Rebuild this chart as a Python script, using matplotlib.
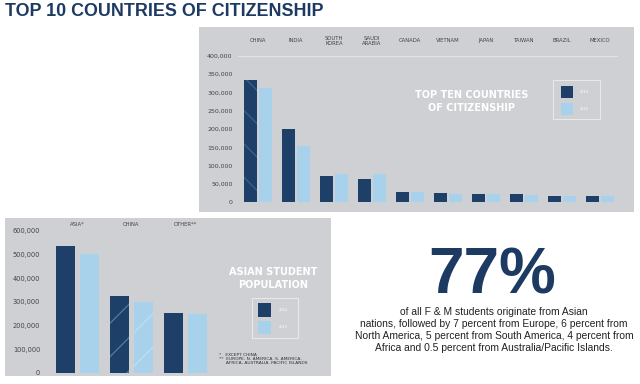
import numpy as np
import matplotlib
matplotlib.use("Agg")
import matplotlib.pyplot as plt
from matplotlib.patches import Rectangle
from matplotlib import font_manager

# top chart data
countries = ["CHINA", "INDIA", "SOUTH\nKOREA", "SAUDI\nARABIA", "CANADA",
             "VIETNAM", "JAPAN", "TAIWAN", "BRAZIL", "MEXICO"]
top_dark = [333000, 199000, 72500, 63500, 27000, 26000, 23000, 21500, 17000, 16000]
top_light = [311000, 154000, 77000, 76000, 27000, 22000, 23000, 20000, 17000, 16500]
top_ticks = [0, 50000, 100000, 150000, 200000, 250000, 300000, 350000, 400000]

# bottom chart data
groups = ["ASIA*", "CHINA", "OTHER**"]
bot_dark = [535000, 324000, 253500]
bot_light = [501000, 297000, 248000]
bot_ticks = [0, 100000, 200000, 300000, 400000, 500000, 600000]

years = ["2014", "2015"]

DARK = "#1e3f68"
LIGHT = "#a8d2ec"
PANEL = "#cfd0d4"
NAVY = "#1c3a62"
W, H = 640, 384

installed = {f.name for f in font_manager.fontManager.ttflist}
narrow = "Liberation Sans Narrow" if "Liberation Sans Narrow" in installed else "Liberation Sans"

fig = plt.figure(figsize=(6.4, 3.84), dpi=100)
fig.patch.set_facecolor("white")

bg = fig.add_axes([0, 0, 1, 1])
bg.set_xlim(0, W)
bg.set_ylim(H, 0)
bg.axis("off")


def box(x0, y0, x1, y1):
    # pixel box (top-left origin) -> figure fraction
    return [x0 / W, 1 - y1 / H, (x1 - x0) / W, (y1 - y0) / H]


# panels
bg.add_patch(Rectangle((199, 27), 435, 185, color=PANEL, lw=0))
bg.add_patch(Rectangle((5, 218), 326, 158, color=PANEL, lw=0))

bg.text(5, 11, "TOP 10 COUNTRIES OF CITIZENSHIP", fontsize=12.9, fontweight="bold",
        color=NAVY, family="Liberation Sans", va="center", ha="left")

# top chart
ax = fig.add_axes(box(238, 55.6, 618, 202.3))
ax.patch.set_alpha(0)
x = np.arange(len(countries))
ax.bar(x - 0.2, top_dark, 0.355, color=DARK, lw=0)
ax.bar(x + 0.2, top_light, 0.355, color=LIGHT, lw=0)
ax.bar(x[:1] - 0.2, top_dark[:1], 0.355, color="none", edgecolor="#35618c",
       hatch="\\", lw=0)
ax.set_xlim(-0.526, 9.47)
ax.set_ylim(0, 400000)
ax.set_yticks(top_ticks)
ax.set_yticklabels(["0"] + [f"{v:,}" for v in top_ticks[1:]])
ax.tick_params(axis="y", length=0, pad=4, labelsize=4.5, labelcolor="#444444")
ax.set_xticks([])
for s in ax.spines.values():
    s.set_visible(False)
ax.axhline(400000, color="#e2e3e6", lw=0.8)
for i, c in enumerate(countries):
    ax.text(i, 1.1, c, transform=ax.get_xaxis_transform(), ha="center", va="center",
            fontsize=3.8, color="#444444", linespacing=0.95)

bg.text(472, 101.5, "TOP TEN COUNTRIES\nOF CITIZENSHIP", color="white", fontsize=7,
        fontweight="bold", ha="center", va="center", linespacing=1.3)
bg.add_patch(Rectangle((553, 80), 47, 39, fill=False, ec="#eeeeee", lw=0.6))
bg.add_patch(Rectangle((561, 86), 12, 12, color=DARK, lw=0))
bg.add_patch(Rectangle((561, 103), 12, 12, color=LIGHT, lw=0))
bg.text(584, 92, years[0], color="white", fontsize=2.5, ha="center", va="center")
bg.text(584, 109, years[1], color="white", fontsize=2.5, ha="center", va="center")

# bottom chart
bx = fig.add_axes(box(50, 230.7, 215, 372.7))
bx.patch.set_alpha(0)
g = np.arange(len(groups))
bx.bar(g - 0.22, bot_dark, 0.36, color=DARK, lw=0)
bx.bar(g + 0.22, bot_light, 0.36, color=LIGHT, lw=0)
bx.bar(g[1:2] - 0.22, bot_dark[1:2], 0.36, color="none", edgecolor="#4a78a3",
       hatch="/", lw=0)
bx.bar(g[1:2] + 0.22, bot_light[1:2], 0.36, color="none", edgecolor="#bcdcf0",
       hatch="/", lw=0)
bx.set_xlim(-0.51, 2.55)
bx.set_ylim(0, 600000)
bx.set_yticks(bot_ticks)
bx.set_yticklabels(["0"] + [f"{v:,}" for v in bot_ticks[1:]])
bx.tick_params(axis="y", length=0, pad=7, labelsize=4.8, labelcolor="#444444")
bx.set_xticks([])
for s in bx.spines.values():
    s.set_visible(False)
for i, c in enumerate(groups):
    bx.text(i, 1.045, c, transform=bx.get_xaxis_transform(), ha="center", va="center",
            fontsize=3.8, color="#444444")

bg.text(273, 278.5, "ASIAN STUDENT\nPOPULATION", color="white", fontsize=7,
        fontweight="bold", ha="center", va="center", linespacing=1.3)
bg.add_patch(Rectangle((252, 298), 46, 40, fill=False, ec="#eeeeee", lw=0.6))
bg.add_patch(Rectangle((258, 303), 13, 14, color=DARK, lw=0))
bg.add_patch(Rectangle((258, 321), 13, 13, color=LIGHT, lw=0))
bg.text(283, 310, years[0], color="white", fontsize=2.5, ha="center", va="center")
bg.text(283, 327.5, years[1], color="white", fontsize=2.5, ha="center", va="center")
bg.text(219, 359, "*   EXCEPT CHINA\n**  EUROPE, N. AMERICA, S. AMERICA,\n     AFRICA, AUSTRALIA, PACIFIC ISLANDS",
        fontsize=3.2, color="#333333", ha="left", va="center", linespacing=1.1)

# right text block
bg.text(492, 276, "77%", fontsize=52 if narrow != "Liberation Sans" else 46,
        fontweight="bold", color=NAVY, family=narrow, ha="center", va="center")
bg.text(494, 330, "of all F & M students originate from Asian\n"
        "nations, followed by 7 percent from Europe, 6 percent from\n"
        "North America, 5 percent from South America, 4 percent from\n"
        "Africa and 0.5 percent from Australia/Pacific Islands.",
        fontsize=7.4, color="#222222", family="Liberation Sans", ha="center",
        va="center", linespacing=1.28)

fig.savefig("out.png", dpi=100)
